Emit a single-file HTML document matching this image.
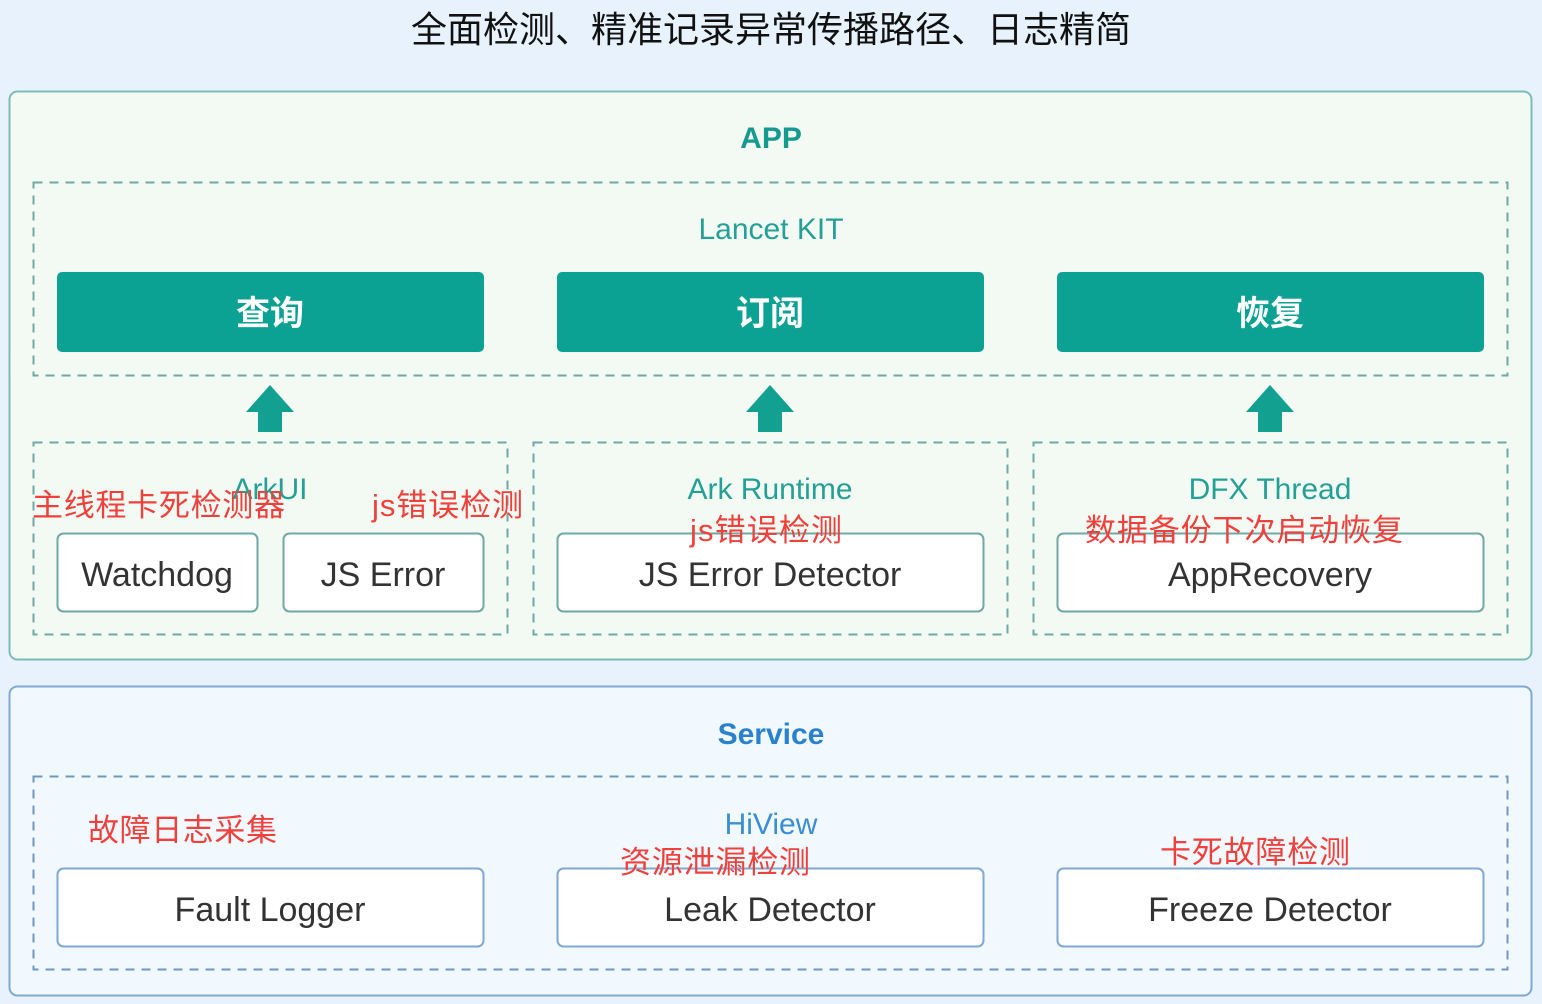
<!DOCTYPE html>
<html><head><meta charset="utf-8"><style>
html,body{margin:0;padding:0;background:#e7f2fc;}
svg{display:block}
text{font-family:"Liberation Sans","Noto Sans CJK SC",sans-serif;}
</style></head><body>
<svg width="1542" height="1004" viewBox="0 0 1542 1004" xmlns="http://www.w3.org/2000/svg">
<rect width="1542" height="1004" fill="#e7f2fc"/>
<text x="771" y="42" font-size="36" text-anchor="middle" fill="#111">全面检测、精准记录异常传播路径、日志精简</text>

<rect x="9.5" y="91.5" width="1522" height="568" rx="8" fill="#f3faf4" stroke="#7dbcb6" stroke-width="2"/>
<text x="771" y="148" font-size="30" font-weight="bold" text-anchor="middle" fill="#159a90">APP</text>
<g fill="none" stroke="#6fa9a4" stroke-width="2" stroke-dasharray="9,7">
<rect x="33.5" y="182.5" width="1474" height="193"/>
<rect x="33.5" y="442.5" width="474" height="192"/>
<rect x="533.5" y="442.5" width="474" height="192"/>
<rect x="1033.5" y="442.5" width="474" height="192"/>
</g>
<text x="771" y="239" font-size="30" text-anchor="middle" fill="#25a095">Lancet KIT</text>
<g fill="#0ca293">
<rect x="57" y="272" width="427" height="80" rx="5"/>
<rect x="557" y="272" width="427" height="80" rx="5"/>
<rect x="1057" y="272" width="427" height="80" rx="5"/>
</g>
<g font-size="34" font-weight="bold" fill="#fff" text-anchor="middle">
<text x="270" y="325">查询</text><text x="770" y="325">订阅</text><text x="1270" y="325">恢复</text>
</g>
<g fill="#12a090">
<polygon points="270,385 294,412 282,412 282,432 258,432 258,412 246,412"/>
<polygon points="770,385 794,412 782,412 782,432 758,432 758,412 746,412"/>
<polygon points="1270,385 1294,412 1282,412 1282,432 1258,432 1258,412 1246,412"/>
</g>
<g font-size="30" text-anchor="middle" fill="#25a095">
<text x="270" y="499">ArkUI</text><text x="770" y="499">Ark Runtime</text><text x="1270" y="499">DFX Thread</text>
</g>
<g fill="#fff" stroke="#6fa9a4" stroke-width="2">
<rect x="57.5" y="533.5" width="200" height="78" rx="6"/>
<rect x="283.5" y="533.5" width="200" height="78" rx="6"/>
<rect x="557.5" y="533.5" width="426" height="78" rx="6"/>
<rect x="1057.5" y="533.5" width="426" height="78" rx="6"/>
</g>
<g font-size="34" text-anchor="middle" fill="#333">
<text x="157" y="586">Watchdog</text><text x="383" y="586">JS Error</text>
<text x="770" y="586">JS Error Detector</text><text x="1270" y="586">AppRecovery</text>
</g>

<rect x="9.5" y="686.5" width="1522" height="309" rx="8" fill="#f1f8fe" stroke="#7fa8d4" stroke-width="2"/>
<text x="771" y="744" font-size="30" font-weight="bold" text-anchor="middle" fill="#2a82cc">Service</text>
<rect x="33.5" y="776.5" width="1474" height="193" fill="none" stroke="#6f98c4" stroke-width="2" stroke-dasharray="9,7"/>
<text x="771" y="834" font-size="30" text-anchor="middle" fill="#3b8ed2">HiView</text>
<g fill="#fff" stroke="#7fa8d4" stroke-width="2">
<rect x="57.5" y="868.5" width="426" height="78" rx="6"/>
<rect x="557.5" y="868.5" width="426" height="78" rx="6"/>
<rect x="1057.5" y="868.5" width="426" height="78" rx="6"/>
</g>
<g font-size="34" text-anchor="middle" fill="#333">
<text x="270" y="921">Fault Logger</text><text x="770" y="921">Leak Detector</text><text x="1270" y="921">Freeze Detector</text>
</g>

<g font-size="31" fill="#f0403c">
<text x="32" y="516" textLength="253">主线程卡死检测器</text>
<text x="372" y="516" textLength="151">js错误检测</text>
<text x="690" y="541" textLength="152">js错误检测</text>
<text x="1085" y="541" textLength="318">数据备份下次启动恢复</text>
<text x="88" y="841" textLength="189">故障日志采集</text>
<text x="620" y="873" textLength="190">资源泄漏检测</text>
<text x="1160" y="863" textLength="190">卡死故障检测</text>
</g>
</svg>
</body></html>
